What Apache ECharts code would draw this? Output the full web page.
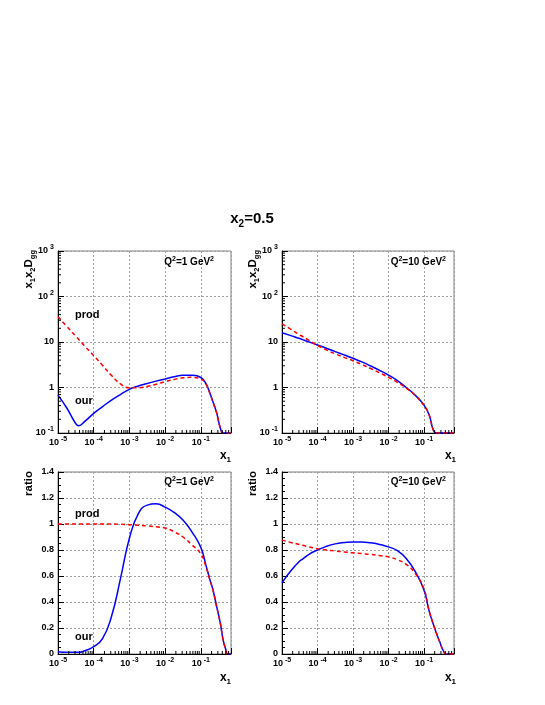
<!DOCTYPE html>
<html>
<head>
<meta charset="utf-8">
<script src="https://cdn.jsdelivr.net/npm/echarts@6/dist/echarts.min.js"></script>
<style>
html, body { margin: 0; padding: 0; background: #fff; }
#chart { width: 545px; height: 705px; }
</style>
</head>
<body>
<div id="chart"></div>
<script>
// x1 sampling points (same for every panel)
var x1Values = [1e-5, 1.78e-5, 3.16e-5, 3.8e-5, 5.62e-5, 1e-4, 1.78e-4, 3.16e-4, 5.62e-4,
  1e-3, 1.78e-3, 3.16e-3, 5.62e-3, 1e-2, 1.78e-2, 3.16e-2, 5.62e-2,
  0.1, 0.14, 0.18, 0.22, 0.28, 0.35, 0.42, 0.5, 0.56, 0.7];

// x1 x2 D_gg, Q^2 = 1 GeV^2
var ourQ1 = [0.68, 0.35, 0.16, 0.145, 0.18, 0.27, 0.38, 0.53, 0.70,
  0.91, 1.08, 1.23, 1.38, 1.54, 1.72, 1.86, 1.85,
  1.66, 1.2, 0.75, 0.48, 0.27, 0.13, 0.1, 0.1, 0.1, 0.1];
var prodQ1 = [36, 21.9, 13.4, 11.4, 8.1, 5.0, 3.05, 1.83, 1.2,
  0.99, 0.99, 1.05, 1.18, 1.34, 1.5, 1.63, 1.67,
  1.54, 1.17, 0.73, 0.47, 0.27, 0.13, 0.1, 0.1, 0.1, 0.1];

// x1 x2 D_gg, Q^2 = 10 GeV^2
var ourQ10 = [16, 13.8, 11.9, 11.3, 10.1, 8.6, 7.3, 6.15, 5.2,
  4.39, 3.65, 2.97, 2.38, 1.88, 1.42, 1.0, 0.68,
  0.41, 0.25, 0.12, 0.1, 0.1, 0.1, 0.1, 0.1, 0.1, 0.1];
var prodQ10 = [24.9, 19, 14.3, 13.2, 11, 8.4, 6.7, 5.5, 4.6,
  3.88, 3.2, 2.62, 2.1, 1.67, 1.3, 0.97, 0.67,
  0.40, 0.25, 0.12, 0.1, 0.1, 0.1, 0.1, 0.1, 0.1, 0.1];

// ratio, Q^2 = 1 GeV^2
var ratioOurQ1 = [0.018, 0.013, 0.013, 0.013, 0.025, 0.056, 0.12, 0.29, 0.58,
  0.89, 1.08, 1.145, 1.155, 1.13, 1.09, 1.03, 0.94,
  0.82, 0.68, 0.57, 0.49, 0.36, 0.24, 0.11, 0.035, 0, 0];
var ratioProdQ1 = [1.0, 1.0, 1.0, 1.0, 1.0, 1.0, 1.0, 1.0, 0.998,
  0.995, 0.99, 0.985, 0.978, 0.97, 0.94, 0.90, 0.84,
  0.77, 0.67, 0.57, 0.49, 0.36, 0.24, 0.11, 0.035, 0, 0];

// ratio, Q^2 = 10 GeV^2
var ratioOurQ10 = [0.548, 0.64, 0.715, 0.73, 0.765, 0.80, 0.828, 0.847, 0.857,
  0.862, 0.862, 0.855, 0.843, 0.824, 0.795, 0.735, 0.635,
  0.49, 0.33, 0.235, 0.165, 0.09, 0.025, 0, 0, 0, 0];
var ratioProdQ10 = [0.876, 0.858, 0.842, 0.837, 0.825, 0.81, 0.80, 0.792, 0.785,
  0.778, 0.772, 0.766, 0.757, 0.747, 0.725, 0.69, 0.62,
  0.50, 0.33, 0.235, 0.165, 0.09, 0.025, 0, 0, 0, 0];

var panelLabels = [
  '{b|Q}{s|2}{b|=1 GeV}{s|2}', '{b|Q}{s|2}{b|=10 GeV}{s|2}',
  '{b|Q}{s|2}{b|=1 GeV}{s|2}', '{b|Q}{s|2}{b|=10 GeV}{s|2}'
];

var FONT = 'Liberation Sans';
var chart = echarts.init(document.getElementById('chart'));

function pairs(ys) {
  return x1Values.map(function (x, i) { return [x, ys[i]]; });
}

// minor ticks of the log axes (2..9 in every decade)
var minorX = [], minorY = [];
for (var e = -5; e < 0; e++) {
  for (var k = 2; k < 10; k++) {
    if (k * Math.pow(10, e) < 0.7) minorX.push(k * Math.pow(10, e));
  }
}
for (var e2 = -1; e2 < 3; e2++) {
  for (var k2 = 2; k2 < 10; k2++) minorY.push(k2 * Math.pow(10, e2));
}

var tickRich = {
  b: { fontFamily: FONT, fontWeight: 'bold', fontSize: 9, color: '#000', lineHeight: 14 },
  s: { fontFamily: FONT, fontWeight: 'bold', fontSize: 7, color: '#000', lineHeight: 6, verticalAlign: 'top', padding: [0, 0, 0, 2] }
};

function powLabel(v) {
  var p = Math.log10(v);
  var r = Math.round(p);
  if (Math.abs(p - r) > 1e-6) return '';
  if (r === 0) return '{b|1}';
  if (r === 1) return '{b|10}';
  return '{b|10}{s|' + r + '}';
}

var grids = [
  { left: 58, top: 251, width: 173, height: 182 },
  { left: 282, top: 251, width: 172, height: 182 },
  { left: 58, top: 472, width: 173, height: 182 },
  { left: 282, top: 472, width: 172, height: 182 }
];
grids.forEach(function (g) {
  g.show = true; g.borderColor = '#808080'; g.borderWidth = 1; g.backgroundColor = 'transparent';
});

var splitStyle = { show: true, lineStyle: { color: '#a0a0a0', type: [2, 2], width: 1 } };

var xAxes = [0, 1, 2, 3].map(function (i) {
  return {
    type: 'log', logBase: 10, gridIndex: i, min: 1e-5, max: 0.7,
    axisLine: { show: true, onZero: false, lineStyle: { color: '#000', width: 1 } },
    axisTick: { show: true, inside: true, length: 6, lineStyle: { color: '#000' } },
    splitLine: splitStyle,
    axisLabel: { show: true, margin: 3, formatter: powLabel, rich: tickRich }
  };
});

var yAxes = [0, 1, 2, 3].map(function (i) {
  if (i < 2) {
    return {
      type: 'log', logBase: 10, gridIndex: i, min: 0.1, max: 1000,
      axisLine: { show: true, lineStyle: { color: '#000' } },
      axisTick: { show: true, inside: true, length: 6, lineStyle: { color: '#000' } },
      splitLine: splitStyle,
      axisLabel: { show: true, margin: 4, formatter: powLabel, rich: tickRich }
    };
  }
  return {
    type: 'value', gridIndex: i, min: 0, max: 1.4, interval: 0.2,
    axisLine: { show: true, lineStyle: { color: '#000' } },
    axisTick: { show: true, inside: true, length: 6, lineStyle: { color: '#000' } },
    minorTick: { show: true, splitNumber: 4, length: 3, lineStyle: { color: '#000' } },
    splitLine: splitStyle,
    axisLabel: { show: true, margin: 4, fontFamily: FONT, fontWeight: 'bold', fontSize: 9, color: '#000' }
  };
});

function curve(i, ys, red) {
  return {
    type: 'line', xAxisIndex: i, yAxisIndex: i, data: pairs(ys),
    showSymbol: false, smooth: 0.5, clip: true, z: red ? 4 : 3,
    lineStyle: red ? { color: '#ff0000', width: 1.5, type: [4, 3] } : { color: '#0000ff', width: 1.5 }
  };
}

function minorSeries(i, vals, yMin, vertical) {
  return {
    type: 'custom', xAxisIndex: i, yAxisIndex: i, silent: true, z: 5,
    data: vals.map(function (v) { return vertical ? [v, yMin] : [1e-5, v]; }),
    renderItem: function (params, api) {
      var p = api.coord([api.value(0), api.value(1)]);
      var shape = vertical
        ? { x1: p[0], y1: p[1], x2: p[0], y2: p[1] - 3 }
        : { x1: p[0], y1: p[1], x2: p[0] + 3, y2: p[1] };
      return { type: 'line', shape: shape, style: { stroke: '#000', lineWidth: 1 } };
    }
  };
}

var series = [
  curve(0, ourQ1, false), curve(0, prodQ1, true),
  curve(1, ourQ10, false), curve(1, prodQ10, true),
  curve(2, ratioOurQ1, false), curve(2, ratioProdQ1, true),
  curve(3, ratioOurQ10, false), curve(3, ratioProdQ10, true),
  minorSeries(0, minorX, 0.1, true), minorSeries(1, minorX, 0.1, true),
  minorSeries(2, minorX, 0, true), minorSeries(3, minorX, 0, true),
  minorSeries(0, minorY, 0, false), minorSeries(1, minorY, 0, false)
];

function rt(size, lh, extra) {
  var o = { fontFamily: FONT, fontWeight: 'bold', color: '#000', fontSize: size, lineHeight: lh };
  for (var key in extra) o[key] = extra[key];
  return o;
}
function txt(x, y, text, rich, align, rot) {
  return {
    type: 'text', x: x, y: y, rotation: rot || 0, z: 10,
    style: { text: text, rich: rich, align: align, textAlign: align, verticalAlign: 'middle', textVerticalAlign: 'middle' }
  };
}

var supRich = { b: rt(10, 12), s: rt(7, 6, { verticalAlign: 'top' }) };
var subRich = { b: rt(12, 16), u: rt(8, 8, { verticalAlign: 'bottom' }) };
var ytRich = { b: rt(11.5, 15), u: rt(7.5, 8, { verticalAlign: 'bottom' }) };
var wordRich = { b: rt(11, 14) };

var graphics = [
  txt(252, 219, '{b|x}{u|2}{b|=0.5}', { b: rt(15, 20), u: rt(10, 10, { verticalAlign: 'bottom' }) }, 'center'),
  txt(214, 262, panelLabels[0], supRich, 'right'),
  txt(446, 262, panelLabels[1], supRich, 'right'),
  txt(214, 482, panelLabels[2], supRich, 'right'),
  txt(446, 482, panelLabels[3], supRich, 'right'),
  txt(75, 315, '{b|prod}', wordRich, 'left'),
  txt(75, 401, '{b|our}', wordRich, 'left'),
  txt(75, 514, '{b|prod}', wordRich, 'left'),
  txt(75, 637, '{b|our}', wordRich, 'left'),
  txt(231, 456, '{b|x}{u|1}', subRich, 'right'),
  txt(456, 456, '{b|x}{u|1}', subRich, 'right'),
  txt(231, 678, '{b|x}{u|1}', subRich, 'right'),
  txt(456, 678, '{b|x}{u|1}', subRich, 'right'),
  txt(29, 250, '{b|x}{u|1}{b|x}{u|2}{b|D}{u|gg}', ytRich, 'right', Math.PI / 2),
  txt(253, 250, '{b|x}{u|1}{b|x}{u|2}{b|D}{u|gg}', ytRich, 'right', Math.PI / 2),
  txt(29, 471, '{b|ratio}', ytRich, 'right', Math.PI / 2),
  txt(253, 471, '{b|ratio}', ytRich, 'right', Math.PI / 2)
];

chart.setOption({
  animation: false,
  backgroundColor: '#fff',
  grid: grids,
  xAxis: xAxes,
  yAxis: yAxes,
  series: series,
  graphic: graphics
});
</script>
</body>
</html>
